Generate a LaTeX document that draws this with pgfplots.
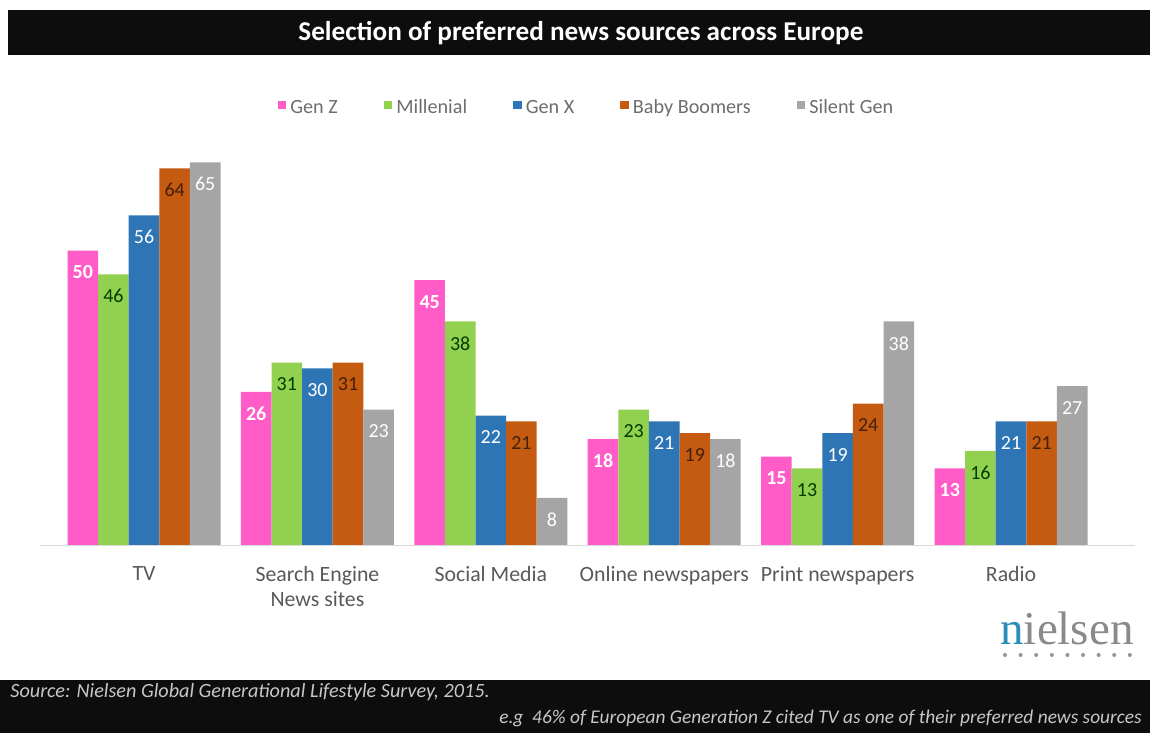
\documentclass[border=0pt]{standalone}
\usepackage{fontspec}
\setmainfont{Carlito}
\newfontfamily\logofont{Liberation Serif}
\usepackage{pgfplots}
\pgfplotsset{compat=1.18}
\definecolor{cGenZ}{HTML}{FF5CC8}
\definecolor{cMil}{HTML}{92D050}
\definecolor{cGenX}{HTML}{2E75B6}
\definecolor{cBB}{HTML}{C55A11}
\definecolor{cSil}{HTML}{A5A5A5}
\definecolor{txt}{HTML}{595959}
\definecolor{legtxt}{HTML}{6E6E6E}
\definecolor{nblue}{HTML}{2A8DB8}
\definecolor{ngray}{HTML}{8A8A8A}

\pgfplotstableread{
x GenZ Mil GenX BB Sil
0 50 46 56 64 65
1 26 31 30 31 23
2 45 38 22 21 8
3 18 23 21 19 18
4 15 13 19 24 38
5 13 16 21 21 27
}\datatab

\begin{document}
\begin{tikzpicture}[x=0.5pt,y=0.5pt]
\fill[white] (0,0) rectangle (1150,733);
\fill[black!95] (8,678) rectangle (1150,723);
\node[white, font=\bfseries\fontsize{13.6}{15}\selectfont] at (581,700) {Selection of preferred news sources across Europe};
\fill[black!95] (0,0) rectangle (1150,53);
\node[anchor=west, text=black!22, font=\itshape\fontsize{10.1}{12}\selectfont, inner sep=0pt] at (10,41) {Source: Nielsen Global Generational Lifestyle Survey, 2015.};
\node[anchor=east, text=black!22, font=\itshape\fontsize{9.7}{11}\selectfont, inner sep=0pt] at (1142,15) {e.g\ \ 46\% of European Generation Z cited TV as one of their preferred news sources};
\node[anchor=base, inner sep=0pt, font=\logofont\fontsize{23.5}{25}\selectfont] at (1067,89) {\textcolor{nblue}{n}\textcolor{ngray}{ielsen}};
\foreach \i in {0,...,8} \fill[ngray!90] (1005+15.6*\i,78) circle (2);
\begin{axis}[
  at={(20pt,94pt)}, anchor=south west,
  width=547.5pt, height=206pt, scale only axis,
  xmin=-0.6, xmax=5.715, ymin=0, ymax=70,
  ybar=0pt, bar width=15.3pt,
  axis x line*=bottom, axis y line=none,
  x axis line style={draw=black!15},
  xtick={0,...,5},
  xticklabels={TV,{Search Engine\\News sites},Social Media,Online newspapers,Print newspapers,Radio},
  xticklabel style={align=center, text=txt, font=\fontsize{10.9}{12.4}\selectfont, yshift=-7pt},
  major tick length=0pt,
  ytick=\empty,
  clip=false,
  /pgf/number format/assume math mode=true,
  nodes near coords,
  every node near coord/.append style={anchor=north, yshift=-4pt, font=\fontsize{10}{12}\selectfont},
  legend columns=5,
  legend style={at={(0.5,1.06)}, anchor=center, draw=none, fill=none, text=legtxt,
    font=\fontsize{10.1}{12}\selectfont,
    /tikz/every even column/.append style={column sep=21pt}},
  legend image code/.code={\fill[#1,draw=none] (0pt,-0.5pt) rectangle (4.3pt,3.8pt);},
]
\addplot[fill=cGenZ, draw=none, every node near coord/.append style={text=white, font=\bfseries\fontsize{10}{12}\selectfont}] table[x=x,y=GenZ] {\datatab};
\addplot[fill=cMil, draw=none, every node near coord/.append style={text=black!60!green!60!black}] table[x=x,y=Mil] {\datatab};
\addplot[fill=cGenX, draw=none, every node near coord/.append style={text=white}] table[x=x,y=GenX] {\datatab};
\addplot[fill=cBB, draw=none, every node near coord/.append style={text=black!50!cBB!70!black}] table[x=x,y=BB] {\datatab};
\addplot[fill=cSil, draw=none, every node near coord/.append style={text=white}] table[x=x,y=Sil] {\datatab};
\legend{Gen Z,Millenial,Gen X,Baby Boomers,Silent Gen}
\end{axis}
\end{tikzpicture}
\end{document}
